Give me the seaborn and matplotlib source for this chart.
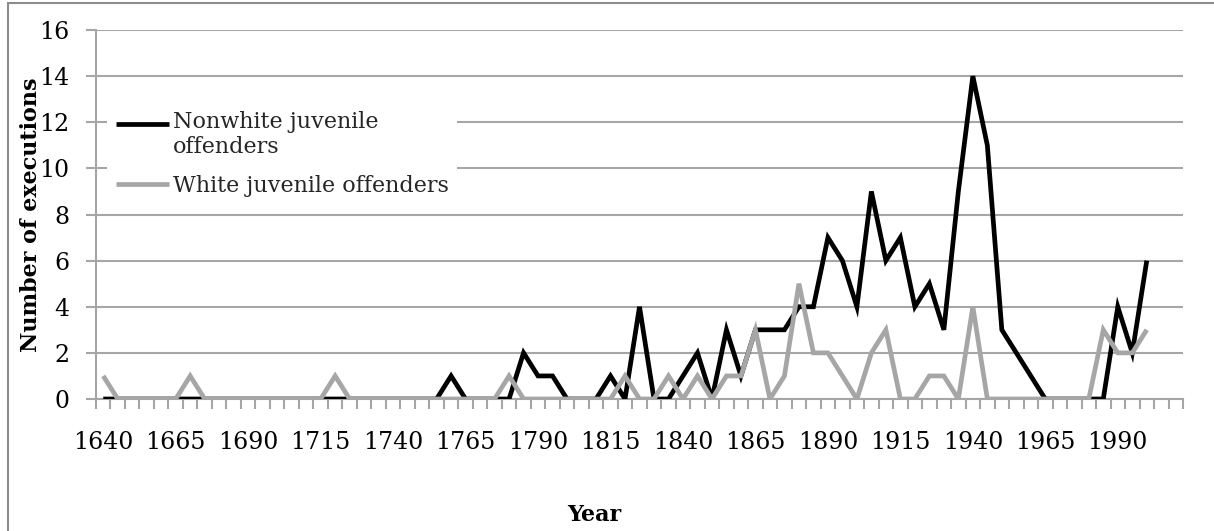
import numpy as np
import pandas as pd
import matplotlib
matplotlib.use("Agg")
import matplotlib.pyplot as plt
from matplotlib.patches import Rectangle
from matplotlib.ticker import FixedLocator
from matplotlib.legend_handler import HandlerLine2D
import seaborn as sns

# data (5-year bins)
years = [1640, 1645, 1650, 1655, 1660, 1665, 1670, 1675, 1680, 1685,
         1690, 1695, 1700, 1705, 1710, 1715, 1720, 1725, 1730, 1735,
         1740, 1745, 1750, 1755, 1760, 1765, 1770, 1775, 1780, 1785,
         1790, 1795, 1800, 1805, 1810, 1815, 1820, 1825, 1830, 1835,
         1840, 1845, 1850, 1855, 1860, 1865, 1870, 1875, 1880, 1885,
         1890, 1895, 1900, 1905, 1910, 1915, 1920, 1925, 1930, 1935,
         1940, 1945, 1950, 1955, 1960, 1965, 1970, 1975, 1980, 1985,
         1990, 1995, 2000, 2005, 2010]
nonwhite = [0, 0, 0, 0, 0, 0, 0, 0, 0, 0,
            0, 0, 0, 0, 0, 0, 0, 0, 0, 0,
            0, 0, 0, 0, 1, 0, 0, 0, 0, 2,
            1, 1, 0, 0, 0, 1, 0, 4, 0, 0,
            1, 2, 0, 3, 1, 3, 3, 3, 4, 4,
            7, 6, 4, 9, 6, 7, 4, 5, 3, 9,
            14, 11, 3, 2, 1, 0, 0, 0, 0, 0,
            4, 2, 6, np.nan, np.nan]
white = [1, 0, 0, 0, 0, 0, 1, 0, 0, 0,
         0, 0, 0, 0, 0, 0, 1, 0, 0, 0,
         0, 0, 0, 0, 0, 0, 0, 0, 1, 0,
         0, 0, 0, 0, 0, 0, 1, 0, 0, 1,
         0, 1, 0, 1, 1, 3, 0, 1, 5, 2,
         2, 1, 0, 2, 3, 0, 0, 1, 1, 0,
         4, 0, 0, 0, 0, 0, 0, 0, 0, 3,
         2, 2, 3, np.nan, np.nan]
label_years = [1640, 1665, 1690, 1715, 1740, 1765, 1790, 1815, 1840, 1865, 1890, 1915, 1940, 1965, 1990]
series_names = ["Nonwhite juvenile\noffenders", "White juvenile offenders"]

df = pd.DataFrame({"Year": years * 2,
                   "value": nonwhite + white,
                   "series": [series_names[0]] * len(years) + [series_names[1]] * len(years)})


class RaisedLine(HandlerLine2D):
    # legend line aligned with the first text row instead of the middle
    def __init__(self, raise_by, **kw):
        super().__init__(**kw)
        self.raise_by = raise_by

    def create_artists(self, legend, orig_handle, xdescent, ydescent, width, height, fontsize, trans):
        arts = super().create_artists(legend, orig_handle, xdescent, ydescent, width, height, fontsize, trans)
        for a in arts:
            a.set_ydata(np.asarray(a.get_ydata()) + self.raise_by)
        return arts


sns.set_theme(style="white")
plt.rcParams["font.family"] = ["DejaVu Serif"]

fig = plt.figure(figsize=(12.14, 5.31), dpi=100)
ax = fig.add_axes([96 / 1214, 1 - 399 / 531, (1183 - 96) / 1214, (399 - 30) / 531])

grid_c = "#a6a6a6"
sns.lineplot(data=df, x="Year", y="value", hue="series", hue_order=series_names,
             palette=["black", "#a6a6a6"], linewidth=3.4, estimator=None,
             errorbar=None, sort=False, ax=ax, zorder=3)
for ln in ax.lines:
    ln.set_solid_joinstyle("miter")
    ln.set_solid_capstyle("butt")

ax.set_xlim(1637.5, 2012.5)
ax.set_ylim(0, 16)
ax.set_yticks(range(0, 17, 2))
ax.yaxis.grid(True, color=grid_c, linewidth=1.5)
ax.set_axisbelow(True)
ax.set_xticks(label_years)
ax.xaxis.set_minor_locator(FixedLocator([1637.5 + 5 * k for k in range(76)]))
ax.tick_params(axis="x", which="major", length=0, pad=23, labelsize=17, colors="black")
ax.tick_params(axis="x", which="minor", length=7, width=1.5, color=grid_c, direction="out", bottom=True)
ax.tick_params(axis="y", length=7, width=1.5, color=grid_c, direction="out", left=True, pad=12,
               labelsize=17, colors="black")
for s in ["top", "right"]:
    ax.spines[s].set_visible(False)
for s in ["left", "bottom"]:
    ax.spines[s].set_color(grid_c)
    ax.spines[s].set_linewidth(1.5)

ax.set_ylabel("Number of executions", fontsize=16, fontweight="bold", color="black")
ax.yaxis.set_label_coords(-0.05, 0.5)
ax.set_xlabel("Year", fontsize=16, fontweight="bold", color="black")
ax.xaxis.set_label_coords(0.458, -0.285)

handles, labels = ax.get_legend_handles_labels()
leg = ax.legend(handles, labels, loc="upper left", bbox_to_anchor=(0.0, 0.835),
                fontsize=16, frameon=True, facecolor="white", edgecolor="none",
                framealpha=1, fancybox=False, handlelength=2.4, handletextpad=0.15,
                labelspacing=0.75, borderpad=0.4,
                handler_map={handles[0]: RaisedLine(8.5)})
leg.set_zorder(5)
for h in leg.get_lines():
    h.set_linewidth(3.4)

fig.patches.append(Rectangle((8 / 1214, -0.1), 1.2, 1.1 - 3 / 531, transform=fig.transFigure,
                             fill=False, edgecolor="#8c8c8c", linewidth=1.5))

fig.savefig("out.png", dpi=100)
